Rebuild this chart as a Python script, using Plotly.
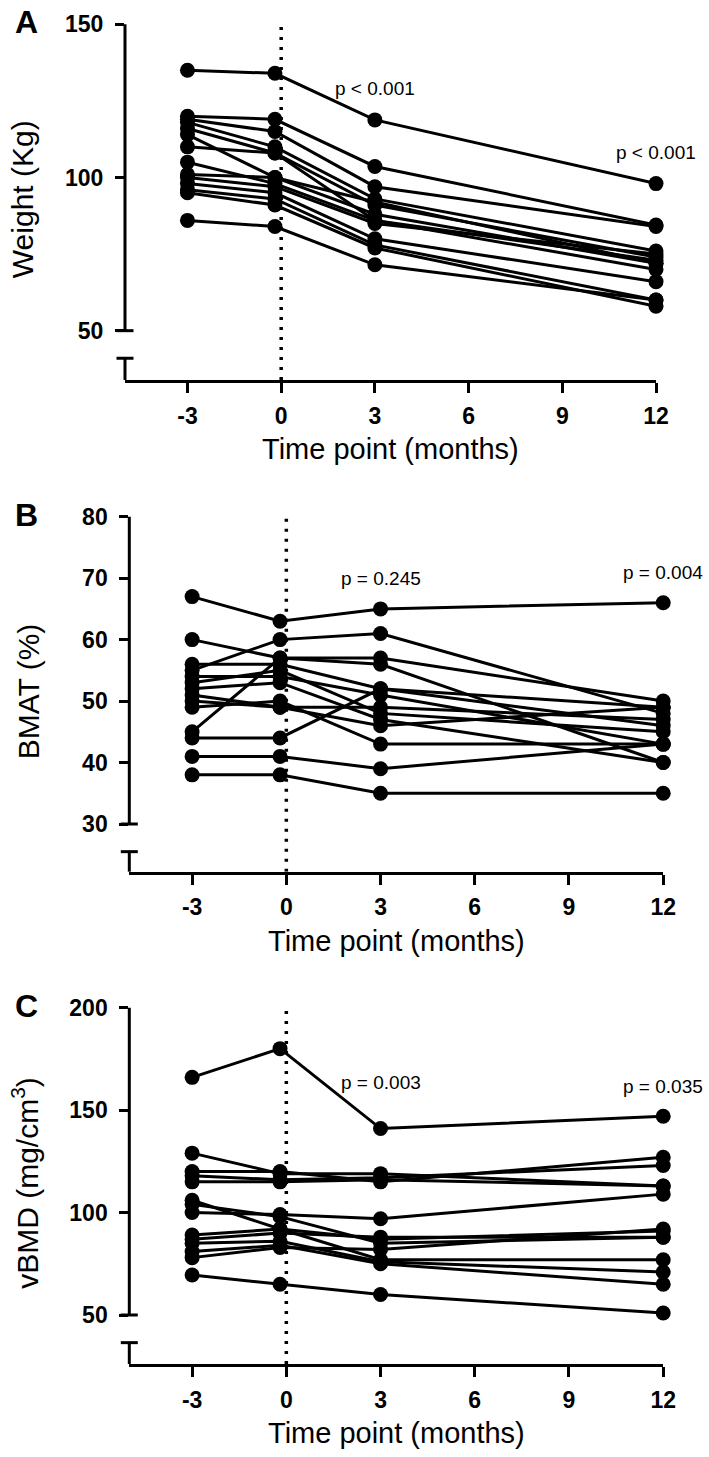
import plotly.graph_objects as go

# ---------------- data ----------------
time_points = [-3, -0.2, 3, 12]          # months (0-month points sit just left of the dotted line)
x_tick_vals = [-3, 0, 3, 6, 9, 12]

weight_kg = [
    [135, 134, 118.8, 98],
    [120, 119, 103.6, 84.5],
    [119, 115, 97, 84],
    [118, 110, 93, 76],
    [116, 108, 91, 74],
    [114, 100, 88, 72],
    [110, 108, 86, 70],
    [105, 98, 86, 73],
    [101, 100, 92, 72],
    [100, 97, 85, 75],
    [98, 95, 80, 66],
    [96, 93, 78, 60],
    [95, 91, 77, 58],
    [86, 84, 71.5, 60],
]

bmat_pct = [
    [67, 63, 65, 66],
    [60, 57, 57, 50],
    [55, 60, 61, 48],
    [45, 57, 56, 40],
    [56, 56, 52, 46],
    [54, 54, 51, 43],
    [53, 55, 48, 45],
    [52, 53, 47, 40],
    [51, 49, 46, 49],
    [50, 49, 49, 47],
    [49, 50, 43, 43],
    [44, 44, 52, 49],
    [41, 41, 39, 43],
    [38, 38, 35, 35],
]

vbmd = [
    [166, 180, 141, 147],
    [129, 119, 119, 113],
    [120, 120, 115, 127],
    [118, 116, 117, 123],
    [115, 115, 116, 113],
    [106, 92, 77, 77],
    [104, 98, 85, 88],
    [100, 99, 97, 109],
    [89, 92, 87, 91],
    [87, 90, 88, 88],
    [85, 86, 76, 71],
    [81, 84, 75, 65],
    [78, 83, 82, 92],
    [69.5, 65, 60, 51],
]

p_weight = ["p < 0.001", "p < 0.001"]
p_bmat = ["p = 0.245", "p = 0.004"]
p_vbmd = ["p = 0.003", "p = 0.035"]

# ---------------- layout geometry ----------------
W, H = 709, 1457
FONT = "Liberation Sans, Arial, Helvetica, sans-serif"


def fx(px):
    return px / W


def fy(py):
    return 1 - py / H


panels = [
    dict(key="", data=weight_kg, letter="A", ytitle="Weight (Kg)",
         xl=125, xr=656, yt=24.3, yb=380, ymin=33.9, ymax=150, ylow=50, ystub=41.0,
         yticks=[50, 100, 150], pvals=p_weight, py=[129.0, 108.0], title_x=22),
    dict(key="2", data=bmat_pct, letter="B", ytitle="BMAT (%)",
         xl=129.3, xr=663.2, yt=516.7, yb=871.7, ymin=22.24, ymax=80, ylow=30, ystub=25.5,
         yticks=[30, 40, 50, 60, 70, 80], pvals=p_bmat, py=[70.0, 71.0], title_x=28),
    dict(key="3", data=vbmd, letter="C", ytitle="vBMD (mg/cm<sup>3</sup>)",
         xl=129.3, xr=663.2, yt=1007.7, yb=1364, ymin=26.08, ymax=200, ylow=50, ystub=36.5,
         yticks=[50, 100, 150, 200], pvals=p_vbmd, py=[163.7, 161.3], title_x=25),
]

fig = go.Figure()
shapes = []
annotations = []
layout = {}

for p in panels:
    k = p["key"]
    xa, ya = "x" + k, "y" + k
    for subj in p["data"]:
        fig.add_trace(go.Scatter(
            x=time_points, y=subj, xaxis=xa, yaxis=ya, mode="lines+markers",
            line=dict(color="black", width=3),
            marker=dict(color="black", size=15, symbol="circle"),
            showlegend=False, cliponaxis=False, hoverinfo="skip"))

    layout["xaxis" + k] = dict(
        domain=[fx(p["xl"]), fx(p["xr"])], range=[-5, 12], anchor=ya, automargin=False,
        tickvals=x_tick_vals, ticktext=[str(v) for v in x_tick_vals],
        ticks="outside", ticklen=10, tickwidth=3, tickcolor="black",
        showline=True, linewidth=3, linecolor="black",
        showgrid=False, zeroline=False, ticklabelstandoff=3,
        tickfont=dict(family=FONT, size=23, color="black", weight="bold"))
    layout["yaxis" + k] = dict(
        domain=[fy(p["yb"]), fy(p["yt"])], range=[p["ymin"], p["ymax"]], anchor=xa, automargin=False,
        tickvals=p["yticks"], ticks="outside", ticklen=9, tickwidth=3, tickcolor="black",
        showline=False, showgrid=False, zeroline=False, ticklabelstandoff=7,
        tickfont=dict(family=FONT, size=23, color="black", weight="bold"))

    def ypx(v, p=p):
        return p["yb"] - (v - p["ymin"]) / (p["ymax"] - p["ymin"]) * (p["yb"] - p["yt"])

    xl = p["xl"]
    cap = 8.5
    axis_line = dict(color="black", width=3)
    # main y-axis segment
    shapes.append(dict(type="line", xref="paper", yref="paper",
                       x0=fx(xl), x1=fx(xl), y0=fy(ypx(p["ylow"])), y1=fy(p["yt"]), line=axis_line))
    shapes.append(dict(type="line", xref="paper", yref="paper",
                       x0=fx(xl - cap), x1=fx(xl + cap), y0=fy(ypx(p["ylow"])), y1=fy(ypx(p["ylow"])),
                       line=axis_line))
    # lower stub after the break
    shapes.append(dict(type="line", xref="paper", yref="paper",
                       x0=fx(xl), x1=fx(xl), y0=fy(ypx(p["ystub"])), y1=fy(p["yb"]), line=axis_line))
    shapes.append(dict(type="line", xref="paper", yref="paper",
                       x0=fx(xl - cap), x1=fx(xl + cap), y0=fy(ypx(p["ystub"])), y1=fy(ypx(p["ystub"])),
                       line=axis_line))
    # dotted baseline marker at month 0
    shapes.append(dict(type="line", xref=xa, yref=ya, x0=0, x1=0, y0=p["ymin"], y1=p["ymax"],
                       line=dict(color="black", width=3.5, dash="3px,7px")))

    # panel letter
    annotations.append(dict(text=p["letter"], xref="paper", yref="paper",
                            x=fx(26), y=fy(p["yt"] - 2), xanchor="center", yanchor="middle",
                            showarrow=False, font=dict(family=FONT, size=32, color="black", weight="bold")))
    # y title
    annotations.append(dict(text=p["ytitle"], xref="paper", yref="paper", textangle=-90,
                            x=fx(p["title_x"]), y=fy((p["yt"] + p["yb"]) / 2 - 3),
                            xanchor="center", yanchor="middle", showarrow=False,
                            font=dict(family=FONT, size=30, color="black")))
    # x title
    annotations.append(dict(text="Time point (months)", xref="paper", yref="paper",
                            x=fx((p["xl"] + p["xr"]) / 2), y=fy(p["yb"] + 69),
                            xanchor="center", yanchor="middle", showarrow=False,
                            font=dict(family=FONT, size=29, color="black")))
    # p-values
    for xv, yv, txt in zip([3, 12], p["py"], p["pvals"]):
        annotations.append(dict(text=txt, xref=xa, yref=ya, x=xv, y=yv,
                                xanchor="center", yanchor="middle", showarrow=False,
                                font=dict(family=FONT, size=19, color="black")))

fig.update_layout(
    template="none",
    width=W, height=H, margin=dict(l=0, r=0, t=0, b=0, pad=0),
    paper_bgcolor="white", plot_bgcolor="white",
    shapes=shapes, annotations=annotations, **layout)

fig.write_html("out.html", config={"displayModeBar": False, "staticPlot": True},
               post_script="document.body.style.margin='0';document.body.style.overflow='hidden';")
